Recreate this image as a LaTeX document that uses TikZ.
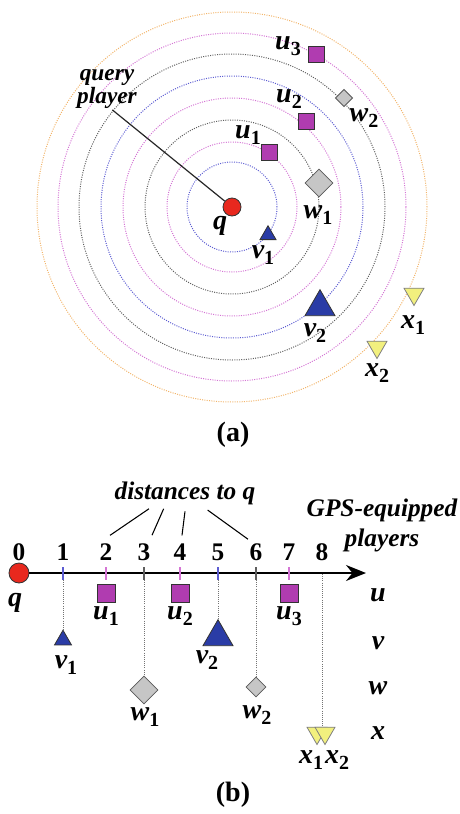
\documentclass[tikz,border=0pt]{standalone}
\usepackage{fontspec}
\setmainfont{Liberation Serif}
\usetikzlibrary{arrows.meta, shapes.geometric, calc}
\definecolor{ptred}{HTML}{E8281E}
\definecolor{ptmag}{HTML}{B03CB0}
\definecolor{ptblue}{HTML}{2A3CA6}
\definecolor{ptgray}{HTML}{C6C6C6}
\definecolor{ptyel}{HTML}{F2F07E}
\definecolor{rblue}{HTML}{5C5CD2}
\definecolor{rpink}{HTML}{D474D4}
\definecolor{rblack}{HTML}{5E5E5E}
\definecolor{rorange}{HTML}{F2B46A}
\newcommand{\plbl}[2]{#1\raisebox{-0.45ex}{\fontsize{15}{15}\selectfont\upshape #2}}

\begin{document}
\begin{tikzpicture}[x=0.75pt, y=-0.75pt,
  lab/.style={font=\fontsize{21}{21}\selectfont\bfseries\itshape, inner sep=0pt},
  num/.style={font=\fontsize{19}{19}\selectfont\bfseries, inner sep=0pt},
  sq/.style={rectangle, draw=black!80, fill=ptmag, minimum size=#1, inner sep=0pt, line width=0.6pt},
  dia/.style={diamond, draw=black!65, fill=ptgray, minimum size=#1, inner sep=0pt, line width=0.6pt},
  tri/.style={regular polygon, regular polygon sides=3, draw=black!80, fill=ptblue, minimum size=#1, inner sep=0pt, line width=0.6pt},
  itri/.style={tri={#1}, shape border rotate=180, fill=ptyel, draw=black!50},
  qdot/.style={circle, draw=black!80, fill=ptred, minimum size=#1, inner sep=0pt, line width=0.6pt},
  ring/.style={densely dotted, line width=0.75pt, #1},
  drop/.style={densely dotted, line width=0.6pt, black!55}]

  \useasboundingbox (0,0) rectangle (460,814);

  % (a) rings round the query player
  \coordinate (qa) at (232,207);
  \foreach \r/\c in {45/rblue, 65/rpink, 87/rblack, 109/rpink, 131/rblue, 153/rblack, 174/rpink, 195/rorange}
    \draw[ring=\c] (qa) circle[radius=\r*0.75pt];

  \node[qdot=13.5pt] (q) at (qa) {};
  \node[lab] (ql) at (220,226) {q};
  \node[lab, font=\fontsize{17.5}{15}\selectfont\bfseries\itshape, align=center] (qp) at (107,89) {query\\player};
  \draw[line width=0.9pt, black!85] ([xshift=4pt, yshift=-1pt]qp.south) -- (q);

  % players in (a)
  \node[sq=12pt] (u1) at (269,152) {};
  \node[sq=12pt] (u2) at (306,121) {};
  \node[sq=12pt] (u3) at (316,54) {};
  \node[dia=21pt] (w1) at (319,183) {};
  \node[dia=13pt] (w2) at (344,98) {};
  \node[tri=13.9pt] (v1) at (268,235) {};
  \node[tri=26pt] (v2) at (320,307) {};
  \node[itri=17.3pt] (x1) at (414,294) {};
  \node[itri=17.3pt] (x2) at (377,347) {};

  \node[lab] at (248,135) {\plbl{u}{1}};
  \node[lab] at (289,99) {\plbl{u}{2}};
  \node[lab] at (288,46) {\plbl{u}{3}};
  \node[lab] at (318,215) {\plbl{w}{1}};
  \node[lab] at (364,118) {\plbl{w}{2}};
  \node[lab] at (263,255) {\plbl{v}{1}};
  \node[lab] at (315,333) {\plbl{v}{2}};
  \node[lab] at (413,325) {\plbl{x}{1}};
  \node[lab] at (377,373) {\plbl{x}{2}};

  \node[num, font=\fontsize{21}{21}\selectfont\bfseries] (capa) at (233,435) {(a)};

  % (b) distance axis
  \node[qdot=15pt] (qb) at (19,573) {};
  \node[lab] (qbl) at (15,603) {q};
  \coordinate (tip) at (366,573);
  \draw[line width=1.2pt, -{Stealth[length=15pt, width=12pt]}] (qb) -- (tip);

  \foreach \i/\x in {0/19, 1/63, 2/106, 3/144, 4/180, 5/218, 6/256, 7/289, 8/322}
    \node[num] (n\i) at (\x,552) {\i};
  \foreach \i/\x/\c in {1/63/rblue, 2/106/rpink, 3/144/rblack, 4/180/rpink, 5/218/rblue, 6/256/rblack, 7/289/rpink} {
    \draw[\c, line width=1pt] (\x,567) -- (\x,580);
    \coordinate (t\i) at (\x,580);
  }
  \coordinate (t8) at (322,574);

  % players in (b)
  \node[sq=13.5pt] (u1b) at (106,593) {};
  \node[sq=13.5pt] (u2b) at (180,593) {};
  \node[sq=13.5pt] (u3b) at (289,593) {};
  \node[tri=14.7pt] (v1b) at (63,640) {};
  \node[tri=26pt] (v2b) at (218,637) {};
  \node[dia=21pt] (w1b) at (144,690) {};
  \node[dia=15pt] (w2b) at (256,687) {};
  \node[itri=17.3pt] (x1b) at (317,733) {};
  \node[itri=17.3pt] (x2b) at (325,733) {};

  \draw[drop] (t1) -- (v1b.north);
  \draw[drop] (t3) -- (w1b.north);
  \draw[drop] (t5) -- (v2b.north);
  \draw[drop] (t6) -- (w2b.north);
  \draw[drop] (t8) -- (t8 |- x2b.north);

  \node[lab] at (106,616) {\plbl{u}{1}};
  \node[lab] at (180,616) {\plbl{u}{2}};
  \node[lab] at (289,616) {\plbl{u}{3}};
  \node[lab] at (66,665) {\plbl{v}{1}};
  \node[lab] at (207,660) {\plbl{v}{2}};
  \node[lab] at (145,717) {\plbl{w}{1}};
  \node[lab] at (257,715) {\plbl{w}{2}};
  \node[lab] at (311,760) {\plbl{x}{1}};
  \node[lab] at (337,760) {\plbl{x}{2}};

  % row names
  \foreach \t/\y in {u/595, v/643, w/688, x/733}
    \node[lab] (row\t) at (378,\y) {\t};

  % distances to q
  \node[lab, font=\fontsize{19}{19}\selectfont\bfseries\itshape] (dist) at (185,493) {distances to q};
  \draw[line width=0.8pt] ([xshift=-27pt, yshift=-3pt]dist.south) -- ([xshift=3pt, yshift=6pt]n2.north);
  \draw[line width=0.8pt] ([xshift=-16pt, yshift=-3pt]dist.south) -- ([xshift=6pt, yshift=6pt]n3.north);
  \draw[line width=0.8pt] ([xshift=0pt, yshift=-5pt]dist.south) -- ([xshift=1.5pt, yshift=6pt]n4.north);
  \draw[line width=0.8pt] ([xshift=17pt, yshift=-4pt]dist.south) -- ([xshift=-6pt, yshift=3pt]n6.north);

  \node[lab, font=\fontsize{19}{22.5}\selectfont\bfseries\itshape, align=center] (gps) at (382,525) {GPS-equipped\\players};

  \node[num, font=\fontsize{21}{21}\selectfont\bfseries] (capb) at (233,795) {(b)};

\end{tikzpicture}
\end{document}
